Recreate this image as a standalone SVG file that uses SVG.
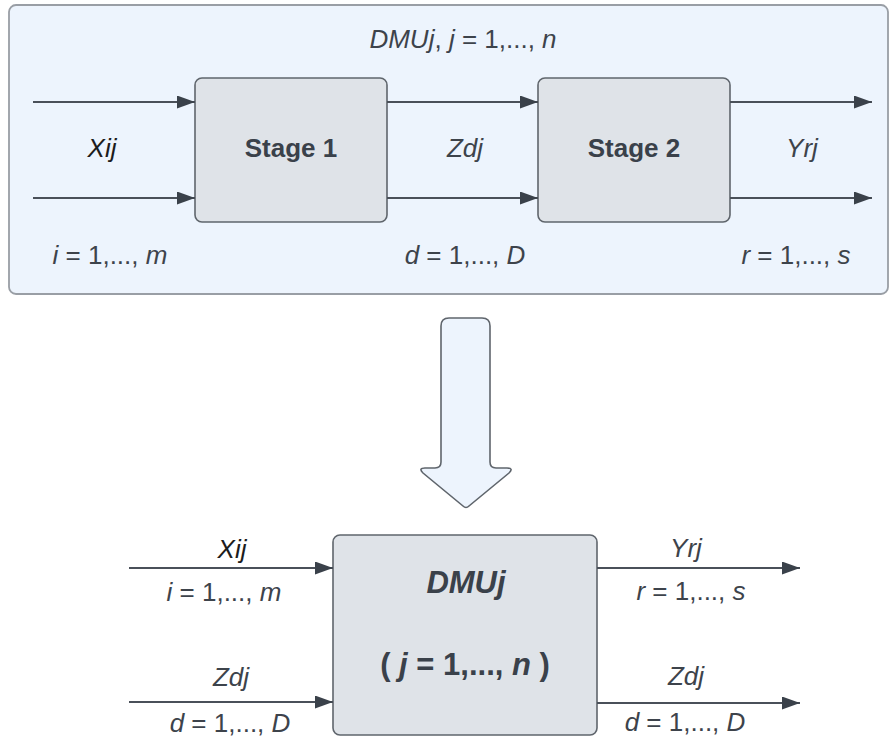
<svg xmlns="http://www.w3.org/2000/svg" width="889" height="740" viewBox="0 0 889 740">
<defs>
<marker id="ah" markerUnits="userSpaceOnUse" markerWidth="20" markerHeight="14" refX="18" refY="6.5" orient="auto">
<path d="M0,0 L18,6.5 L0,13 Z" fill="#3a414a"/>
</marker>
<style>
.lbl{font-family:"Liberation Sans",Arial,sans-serif;font-size:26px;fill:#3d434b;text-anchor:middle}
.lbl tspan,.it{font-style:italic}
.dark{fill:#1c1c1c}
.stage{font-family:"Liberation Sans",Arial,sans-serif;font-weight:bold;font-size:26px;fill:#3a414a;text-anchor:middle}
.big{font-family:"Liberation Sans",Arial,sans-serif;font-weight:bold;font-size:31px;fill:#3a414a;text-anchor:middle}
.box{fill:#dfe3e8;stroke:#5f656c;stroke-width:1.6}
.conn line{stroke:#4a5059;stroke-width:1.8;marker-end:url(#ah)}
</style>
</defs>
<rect x="9" y="5" width="879" height="289" rx="7" fill="#edf4fd" stroke="#999ea5" stroke-width="1.8"/>
<text class="lbl" x="463" y="48"><tspan>DMUj</tspan>, <tspan>j</tspan> = 1,..., <tspan>n</tspan></text>
<g id="stage1">
<rect class="box" x="195" y="78" width="192" height="144" rx="7"/>
<text class="stage" x="291" y="157">Stage 1</text>
</g>
<g id="stage2">
<rect class="box" x="538" y="78" width="192" height="144" rx="7"/>
<text class="stage" x="634" y="157">Stage 2</text>
</g>
<g id="labels-top">
<text class="lbl dark it" x="102" y="157">Xij</text>
<text class="lbl it" x="465" y="157">Zdj</text>
<text class="lbl it" x="802" y="157">Yrj</text>
<text class="lbl" x="110" y="264"><tspan>i</tspan> = 1,..., <tspan>m</tspan></text>
<text class="lbl" x="465" y="264"><tspan>d</tspan> = 1,..., <tspan>D</tspan></text>
<text class="lbl" x="796" y="264"><tspan>r</tspan> = 1,..., <tspan>s</tspan></text>
</g>
<g id="down-arrow">
<path d="M449,318 H482 Q490,318 490,326 V462 Q490,468 496,468 H507 Q514,468 509,473 L469,506 Q466,509 463,506 L423,473 Q418,468 425,468 H435 Q441,468 441,462 V326 Q441,318 449,318 Z" fill="#edf4fd" stroke="#5f656c" stroke-width="1.6"/>
</g>
<g id="dmu">
<rect class="box" x="333" y="535" width="264" height="200" rx="7"/>
<text class="big it" x="466" y="593">DMUj</text>
<text class="big" x="465" y="675">( <tspan class="it">j</tspan> = 1,..., <tspan class="it">n</tspan> )</text>
</g>
<g id="labels-bottom">
<text class="lbl dark it" x="232" y="558">Xij</text>
<text class="lbl" x="224" y="601"><tspan>i</tspan> = 1,..., <tspan>m</tspan></text>
<text class="lbl it" x="231" y="686">Zdj</text>
<text class="lbl" x="230" y="732"><tspan>d</tspan> = 1,..., <tspan>D</tspan></text>
<text class="lbl it" x="686" y="557">Yrj</text>
<text class="lbl" x="691" y="600"><tspan>r</tspan> = 1,..., <tspan>s</tspan></text>
<text class="lbl it" x="686" y="685">Zdj</text>
<text class="lbl" x="685" y="731"><tspan>d</tspan> = 1,..., <tspan>D</tspan></text>
</g>
<g id="connectors" class="conn">
<line x1="33" y1="102" x2="195" y2="102"/>
<line x1="33" y1="198" x2="195" y2="198"/>
<line x1="387" y1="102" x2="538" y2="102"/>
<line x1="387" y1="198" x2="538" y2="198"/>
<line x1="730" y1="102" x2="872" y2="102"/>
<line x1="730" y1="198" x2="872" y2="198"/>
<line x1="129" y1="568" x2="333" y2="568"/>
<line x1="129" y1="702" x2="333" y2="702"/>
<line x1="597" y1="568" x2="800" y2="568"/>
<line x1="597" y1="703" x2="800" y2="703"/>
</g>
</svg>
